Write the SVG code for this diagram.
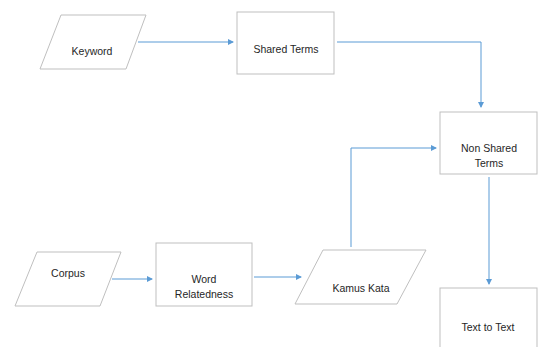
<svg xmlns="http://www.w3.org/2000/svg" width="542" height="347" viewBox="0 0 542 347">
<defs>
<marker id="ah" markerWidth="6" markerHeight="6" refX="5" refY="3" orient="auto" markerUnits="userSpaceOnUse">
<path d="M0,0 L6,3 L0,6 Z" fill="#5b9bd5"/>
</marker>
<style>
.shape{fill:#fff;stroke:#bfbfbf;stroke-width:1}
.lbl{font-family:"Liberation Sans",Arial,sans-serif;font-size:10.5px;fill:#262626;text-anchor:middle}
.conn{fill:none;stroke:#5b9bd5;stroke-width:1;marker-end:url(#ah)}
</style>
</defs>
<rect width="542" height="347" fill="#fff"/>
<g id="connectors">
<path class="conn" d="M138,42 H233"/>
<path class="conn" d="M337,42 H481 V107"/>
<path class="conn" d="M351,247 V148 H436"/>
<path class="conn" d="M489,177 V284"/>
<path class="conn" d="M112,279 H152"/>
<path class="conn" d="M254,277 H301"/>
</g>
<g id="keyword">
<polygon class="shape" points="61,15 146,15 126,69 40,69"/>
<text class="lbl" x="92" y="55">Keyword</text>
</g>
<g id="shared-terms">
<rect class="shape" x="237" y="12" width="97" height="62"/>
<text class="lbl" x="286" y="53">Shared Terms</text>
</g>
<g id="non-shared-terms">
<rect class="shape" x="440" y="112" width="97" height="62"/>
<text class="lbl" x="489" y="152">Non Shared</text>
<text class="lbl" x="489" y="167">Terms</text>
</g>
<g id="corpus">
<polygon class="shape" points="37,252 121,252 100,306 15,306"/>
<text class="lbl" x="68" y="277">Corpus</text>
</g>
<g id="word-relatedness">
<rect class="shape" x="156" y="243" width="96" height="63"/>
<text class="lbl" x="204" y="283">Word</text>
<text class="lbl" x="204" y="298">Relatedness</text>
</g>
<g id="kamus-kata">
<polygon class="shape" points="323,250 426,250 397,304 295,304"/>
<text class="lbl" x="361" y="292">Kamus Kata</text>
</g>
<g id="text-to-text">
<rect class="shape" x="440" y="288" width="97" height="70"/>
<text class="lbl" x="488" y="331">Text to Text</text>
</g>
</svg>
